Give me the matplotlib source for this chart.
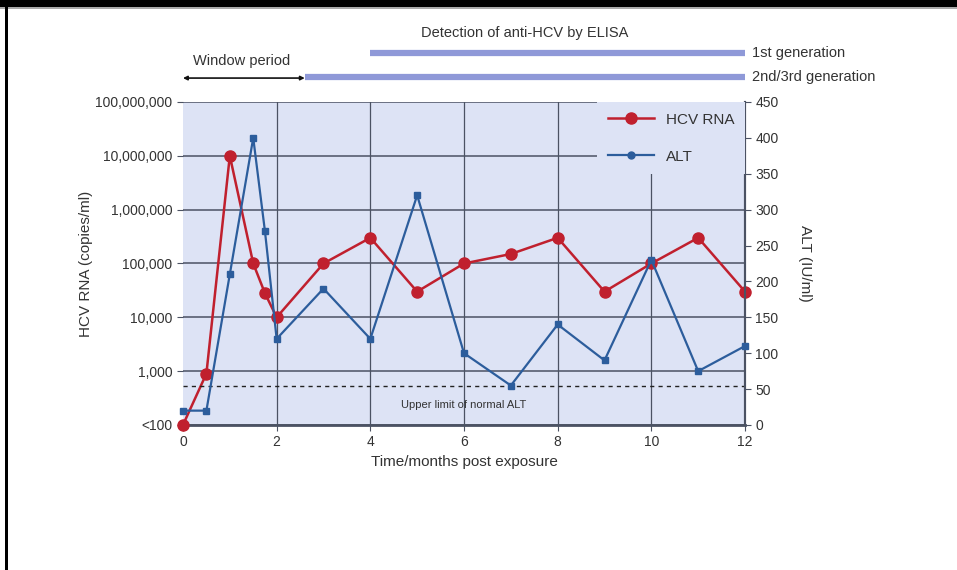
import matplotlib
matplotlib.use('Agg')
import matplotlib.pyplot as plt
from matplotlib.patches import Rectangle
from matplotlib.lines import Line2D

plt.rcParams['font.family'] = ['Liberation Sans Narrow', 'Liberation Sans', 'DejaVu Sans']

# values
months = [0, 0.5, 1, 1.5, 1.75, 2, 3, 4, 5, 6, 7, 8, 9, 10, 11, 12]
hcv_rna = [100, 900, 1.0e7, 1.0e5, 2.8e4, 1.0e4, 1.0e5, 3.0e5, 3.0e4, 1.0e5, 1.5e5, 3.0e5, 3.0e4, 1.0e5, 3.0e5, 3.0e4]
alt = [20, 20, 210, 400, 270, 120, 190, 120, 320, 100, 55, 140, 90, 230, 75, 110]
alt_upper_limit = 55

rna_ticks = [1e2, 1e3, 1e4, 1e5, 1e6, 1e7, 1e8]
rna_labels = ['<100', '1,000', '10,000', '100,000', '1,000,000', '10,000,000', '100,000,000']
alt_ticks = list(range(0, 451, 50))
month_ticks = [0, 2, 4, 6, 8, 10, 12]

window_end = 2.6
gen1_start = 4
gen23_start = 2.6

bg = '#dde3f5'
grid_col = '#4b5263'
red = '#c0202e'
blue = '#2c5d9c'
bar_col = '#8f99d8'
txt = '#333333'

fig = plt.figure(figsize=(9.57, 5.7), dpi=100)
ax = fig.add_axes([0.1912, 0.2544, 0.5873, 0.5667])
ax.set_facecolor(bg)
ax.set_yscale('log')
ax.set_ylim(1e2, 1e8)
ax.set_xlim(0, 12)
ax.set_yticks(rna_ticks)
ax.set_yticklabels(rna_labels)
ax.minorticks_off()
ax.set_xticks(month_ticks)
ax.tick_params(colors=txt, labelsize=10, length=4, color=grid_col)
ax.grid(True, axis='y', color=grid_col, linewidth=1.1)
for m in month_ticks[1:-1]:
    ax.axvline(m, color=grid_col, linewidth=0.9, zorder=0.5)
for s in ['top', 'left']:
    ax.spines[s].set_visible(False)
ax.spines['bottom'].set_color(grid_col)
ax.spines['bottom'].set_linewidth(2)
ax.spines['right'].set_color(grid_col)
ax.spines['right'].set_linewidth(1.5)
ax.set_axisbelow(True)
ax.set_xlabel('Time/months post exposure', fontsize=11, color=txt, labelpad=4)
ax.set_ylabel('HCV RNA (copies/ml)', fontsize=11, color=txt, labelpad=2)

ax2 = ax.twinx()
ax2.set_ylim(0, 450)
ax2.set_yticks(alt_ticks)
ax2.tick_params(colors=txt, labelsize=10, length=4, color=grid_col)
for s in ['top', 'left', 'bottom']:
    ax2.spines[s].set_visible(False)
ax2.spines['right'].set_color(grid_col)
ax2.spines['right'].set_linewidth(1.5)
ax2.set_ylabel('ALT (IU/ml)', fontsize=11, color=txt, rotation=270, labelpad=24)

ax2.axhline(alt_upper_limit, color='#222222', linestyle=(0, (3, 3)), linewidth=1)
ax2.text(6, 28, 'Upper limit of normal ALT', fontsize=8, color=txt, ha='center', va='center')

ax2.plot(months, alt, color=blue, linewidth=1.6, marker='s', markersize=5, clip_on=False, zorder=3)
ax.plot(months, hcv_rna, color=red, linewidth=1.8, marker='o', markersize=8, clip_on=False, zorder=3)
ax.set_zorder(0)

handles = [Line2D([], [], color=red, linewidth=1.8, marker='o', markersize=8),
           Line2D([], [], color=blue, linewidth=1.6, marker='o', markersize=5)]
leg = ax2.legend(handles, ['HCV RNA', 'ALT'], loc='upper right', bbox_to_anchor=(1, 1),
                 borderaxespad=0, facecolor=bg, edgecolor='none', framealpha=1,
                 fontsize=11, labelspacing=1.5, handlelength=3, borderpad=0.7)
leg.get_frame().set_boxstyle('square', pad=0)
for t in leg.get_texts():
    t.set_color(txt)

# detection bars and window period above the plot
tr = ax.get_xaxis_transform()
ax.plot([gen1_start, 12], [1.152, 1.152], transform=tr, color=bar_col, linewidth=4.5,
        solid_capstyle='butt', clip_on=False)
ax.plot([gen23_start, 12], [1.077, 1.077], transform=tr, color=bar_col, linewidth=4.5,
        solid_capstyle='butt', clip_on=False)
ax.text(12.15, 1.152, '1st generation', transform=tr, fontsize=10.5, color=txt, va='center')
ax.text(12.15, 1.077, '2nd/3rd generation', transform=tr, fontsize=10.5, color=txt, va='center')
ax.text(7.3, 1.214, 'Detection of anti-HCV by ELISA', transform=tr, fontsize=10.5, color=txt,
        ha='center', va='center')
ax.annotate('', xy=(0, 1.074), xytext=(window_end, 1.074), xycoords=tr, textcoords=tr,
            arrowprops=dict(arrowstyle='<|-|>', color='#111111', linewidth=1.2,
                            mutation_scale=6, shrinkA=0, shrinkB=0))
ax.text(1.25, 1.127, 'Window period', transform=tr, fontsize=10.5, color=txt,
        ha='center', va='center')

# black frame edges of the original image
fig.add_artist(Rectangle((0, 1 - 7 / 570), 1, 7 / 570, transform=fig.transFigure,
                         facecolor='black', edgecolor='none'))
fig.add_artist(Rectangle((0, 1 - 9 / 570), 1, 2 / 570, transform=fig.transFigure,
                         facecolor='#aaaaaa', edgecolor='none'))
fig.add_artist(Rectangle((5 / 957, 0), 3 / 957, 1, transform=fig.transFigure,
                         facecolor='black', edgecolor='none'))

fig.savefig('out.png', dpi=100)
